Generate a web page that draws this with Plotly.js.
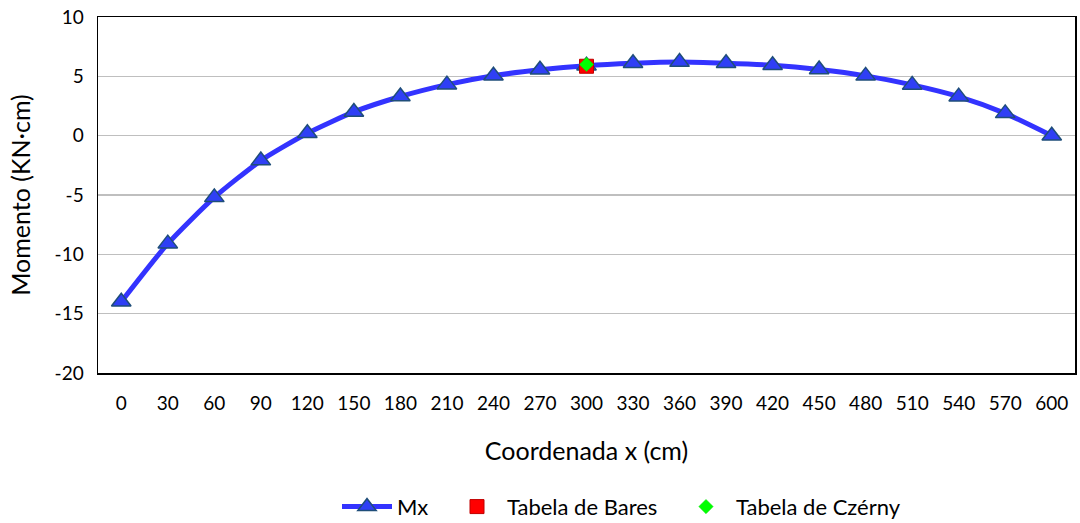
<!DOCTYPE html>
<html>
<head>
<meta charset="utf-8">
<script src="https://cdn.plot.ly/plotly-3.0.1.min.js"></script>
<style>
  html, body { margin: 0; padding: 0; background: #ffffff; }
  #chart { width: 1080px; height: 523px; }
</style>
</head>
<body>
<div id="chart"></div>
<script>
// Bending moment along the beam (cm -> KN·cm)
const coordenadas = ['0', '30', '60', '90', '120', '150', '180', '210', '240', '270', '300',
                     '330', '360', '390', '420', '450', '480', '510', '540', '570', '600'];
const mx = [-14.0, -9.1, -5.2, -2.1, 0.2, 2.0, 3.3, 4.3, 5.05, 5.55, 5.9,
            6.1, 6.2, 6.1, 5.93, 5.57, 5.04, 4.28, 3.29, 1.88, 0.0];

// Reference values from the design tables at mid-span
const baresX = ['300'];
const baresY = [5.85];
const czernyX = ['300'];
const czernyY = [6.0];

// Y axis ticks, written with a plain hyphen for negatives
const yTickVals = [-20, -15, -10, -5, 0, 5, 10];
const yTickText = ['-20', '-15', '-10', '-5', '0', '5', '10'];

const fontFamily = 'Lato, "Open Sans", sans-serif';

const traces = [
  {
    x: coordenadas, y: mx, name: 'Mx', type: 'scatter', mode: 'lines+markers',
    legend: 'legend',
    line: { color: '#3333ff', width: 5, shape: 'spline', smoothing: 0.6 },
    marker: { symbol: 'triangle-up', size: 17, color: '#2f3ff5',
              line: { color: '#1f4e79', width: 1.5 } }
  },
  {
    x: baresX, y: baresY, name: 'Tabela de Bares', type: 'scatter', mode: 'markers',
    legend: 'legend2',
    marker: { symbol: 'square', size: 14, color: '#ff0000',
              line: { color: '#c00000', width: 1 } }
  },
  {
    x: czernyX, y: czernyY, name: 'Tabela de Czérny', type: 'scatter', mode: 'markers',
    legend: 'legend3',
    marker: { symbol: 'diamond', size: 11, color: '#00ff00',
              line: { color: '#00e000', width: 0.5 } }
  }
];

// One legend box per entry so each entry sits where it belongs along the bottom row
function legendAt(xPx) {
  return {
    orientation: 'h', xref: 'container', yref: 'container',
    x: xPx / 1080, xanchor: 'left', y: 0.031, yanchor: 'middle',
    font: { family: fontFamily, size: 22, color: '#000000' },
    itemwidth: 50, bgcolor: 'rgba(0,0,0,0)'
  };
}

const layout = {
  width: 1080, height: 523,
  margin: { l: 98, r: 5, t: 17, b: 150, autoexpand: false },
  paper_bgcolor: '#ffffff', plot_bgcolor: '#ffffff',
  font: { family: fontFamily, size: 19, color: '#000000' },
  showlegend: true,
  legend: legendAt(337),
  legend2: legendAt(447),
  legend3: legendAt(676),
  xaxis: {
    type: 'category', range: [-0.5, 20.5],
    showgrid: false, zeroline: false,
    showline: true, linecolor: '#000000', linewidth: 1.5, mirror: true,
    ticks: '', ticklabelstandoff: 13,
    tickfont: { family: fontFamily, size: 19, color: '#000000' },
    title: { text: 'Coordenada x (cm)', standoff: 29,
             font: { family: fontFamily, size: 25, color: '#000000' } }
  },
  yaxis: {
    range: [-20, 10], tickmode: 'array', tickvals: yTickVals, ticktext: yTickText,
    showgrid: true, gridcolor: '#bfbfbf', gridwidth: 1.5,
    zeroline: true, zerolinecolor: '#bfbfbf', zerolinewidth: 1.5,
    showline: true, linecolor: '#000000', linewidth: 1.5, mirror: true,
    ticks: '', ticklabelstandoff: 9,
    tickfont: { family: fontFamily, size: 19, color: '#000000' },
    title: { text: 'Momento (KN·cm)', standoff: 17,
             font: { family: fontFamily, size: 25, color: '#000000' } }
  }
};

Plotly.newPlot('chart', traces, layout, { displayModeBar: false, staticPlot: true });
</script>
</body>
</html>
